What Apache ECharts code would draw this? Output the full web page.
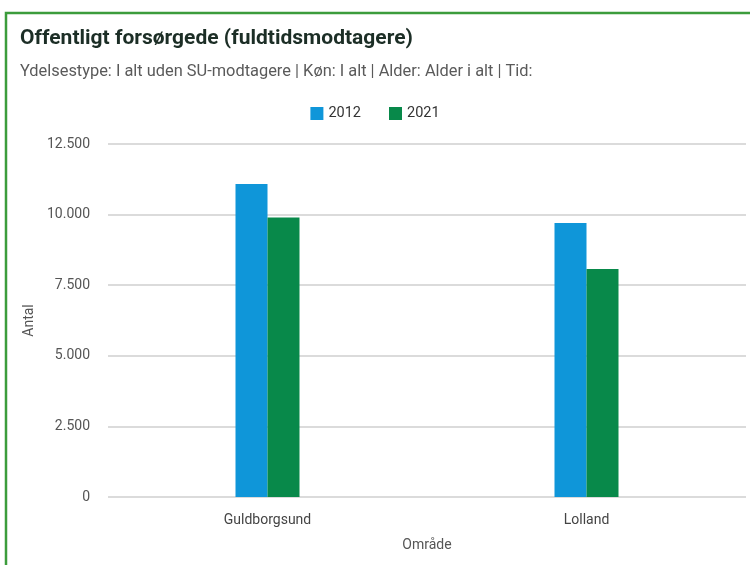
<!DOCTYPE html>
<html><head><meta charset="utf-8">
<script src="https://cdn.jsdelivr.net/npm/echarts@6/dist/echarts.min.js"></script>
<style>html,body{margin:0;padding:0;background:#fff}#c{width:750px;height:565px}</style>
</head><body><div id="c"></div>
<script>
const categories = ['Guldborgsund', 'Lolland'];
const seriesNames = ['2012', '2021'];
const values2012 = [11080, 9700];
const values2021 = [9900, 8070];
const yTicks = { min: 0, max: 12500, interval: 2500 };

const chart = echarts.init(document.getElementById('c'));
const font = 'Roboto, "Liberation Sans", Arial, sans-serif';
chart.setOption({
  animation: false,
  backgroundColor: '#fff',
  textStyle: { fontFamily: font },
  title: {
    text: 'Offentligt forsørgede (fuldtidsmodtagere)',
    subtext: 'Ydelsestype: I alt uden SU-modtagere | Køn: I alt | Alder: Alder i alt | Tid:',
    left: 15, top: 23, itemGap: 15,
    textStyle: { fontSize: 21, fontWeight: 'bold', color: '#1c2e26', fontFamily: font },
    subtextStyle: { fontSize: 16.4, color: '#5a5a5a', fontFamily: font }
  },
  legend: {
    data: seriesNames, top: 101, left: 'center', itemWidth: 13, itemHeight: 13, itemGap: 28,
    icon: 'rect', textStyle: { fontSize: 14.5, color: '#333', fontFamily: font }
  },
  grid: { left: 108, right: 4, top: 144, bottom: 68, containLabel: false },
  xAxis: {
    type: 'category', data: categories,
    name: 'Område', nameLocation: 'middle', nameGap: 41,
    nameTextStyle: { fontSize: 14, color: '#555' },
    axisLine: { show: false }, axisTick: { show: false },
    axisLabel: { fontSize: 14, color: '#444', margin: 16 }
  },
  yAxis: {
    type: 'value', min: yTicks.min, max: yTicks.max, interval: yTicks.interval,
    name: 'Antal', nameLocation: 'middle', nameGap: 69, nameRotate: 90,
    nameTextStyle: { fontSize: 14, color: '#555' },
    axisLine: { show: false }, axisTick: { show: false },
    axisLabel: { fontSize: 14, color: '#555', margin: 18,
      formatter: v => v.toLocaleString('de-DE') },
    splitLine: { lineStyle: { color: '#cfcfcf', width: 1.5 } }
  },
  series: [
    { name: '2012', type: 'bar', data: values2012, barWidth: 32, barGap: '0%', itemStyle: { color: '#0f96d9' } },
    { name: '2021', type: 'bar', data: values2021, barWidth: 32, barGap: '0%', itemStyle: { color: '#08894a' } }
  ],
  graphic: [{
    type: 'polyline', silent: true,
    shape: { points: [[6, 565], [6, 13], [750, 13]] },
    style: { stroke: '#3c9c3c', lineWidth: 2.5, fill: null }
  }]
});
</script></body></html>
